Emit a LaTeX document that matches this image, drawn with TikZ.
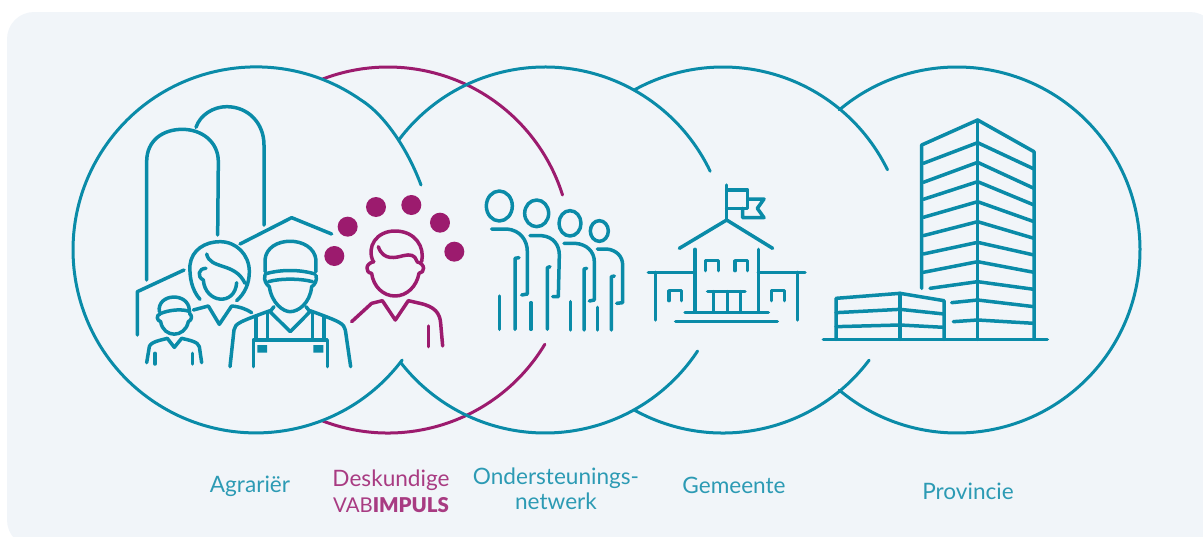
\documentclass[tikz,border=0pt]{standalone}
\usepackage{fontspec}
\setmainfont{Lato}
\newfontfamily\heavyfont{Lato Black}
\definecolor{tl}{HTML}{0A8BA8}
\definecolor{mg}{HTML}{9C1B6E}
\definecolor{bgc}{HTML}{F1F5F9}
\begin{document}
\begin{tikzpicture}[x=1pt,y=-1pt,
  ring/.style={line width=3pt,tl,line cap=round},
  mring/.style={line width=3pt,mg,line cap=round},
  ico/.style={line width=3.5pt,tl,line cap=round,line join=round},
  mico/.style={line width=3.5pt,mg,line cap=round,line join=round},
  lab/.style={font=\fontsize{22.6}{25}\selectfont,align=center,text=tl,inner sep=0pt,opacity=.85},
  dot/.style={circle,fill=mg,inner sep=0pt,minimum size=20pt}]
\useasboundingbox (0,0) rectangle (1203,536);
\clip (0,0) rectangle (1203,536);
\fill[bgc,rounded corners=27pt] (7,12) rectangle (1217,547);
% rings
\draw[mring] (388,250) ++(-111:183) arc[start angle=-111,end angle=-17.5,radius=183];
\draw[mring] (388,250) ++(31:183) arc[start angle=31,end angle=111,radius=183];
\draw[ring] (421,185) .. controls (408,150) and (385,115) .. (361,100) arc[start angle=-55,end angle=-323,radius=183];
\draw[ring] (545,250) ++(-143:183) arc[start angle=-143,end angle=-25.5,radius=183];
\draw[ring] (545,250) ++(33.5:183) arc[start angle=33.5,end angle=142,radius=183];
\draw[ring] (723,250) ++(-119:183) arc[start angle=-119,end angle=-26,radius=183];
\draw[ring] (723,250) ++(37:183) arc[start angle=37,end angle=119,radius=183];
\draw[ring] (957,250) ++(-130:183) arc[start angle=-130,end angle=130,radius=183];
% farm icon
\begin{scope}[shift={(120,90)},x=1/3*1pt,y=-1/3*1pt]
\draw[ico] (80,570) -- (80,215) .. controls (80,150) and (130,118) .. (187,118) .. controls (245,118) and (295,155) .. (295,215) -- (293,435);
\draw[ico] (228,112) .. controls (240,75) and (280,50) .. (320,50) .. controls (385,50) and (432,100) .. (432,165) -- (432,405);
\draw[ico] (52,735) -- (52,605) -- (192,540);
\draw[ico] (360,462) -- (515,383) -- (635,432);
% woman
\draw[ico] (240,628) .. controls (215,600) and (208,560) .. (210,525) .. controls (215,480) and (255,455) .. (300,455) .. controls (350,455) and (388,495) .. (388,545) .. controls (388,580) and (375,610) .. (350,632);
\draw[ico] (260,492) .. controls (270,540) and (345,515) .. (375,580);
\draw[ico] (258,535) .. controls (235,535) and (230,560) .. (250,570) .. controls (255,640) and (345,650) .. (350,578);
\draw[ico] (220,660) -- (265,648) -- (298,703) -- (335,648) .. controls (360,650) and (380,658) .. (395,668);
% boy
\draw[ico] (118,665) .. controls (110,610) and (205,605) .. (208,660);
\draw[ico] (118,672) .. controls (145,660) and (185,655) .. (210,665);
\draw[ico] (120,672) .. controls (108,675) and (110,692) .. (122,695) .. controls (130,745) and (195,745) .. (205,695) .. controls (217,690) and (217,675) .. (208,670);
\draw[ico] (80,818) -- (88,770) .. controls (92,755) and (125,750) .. (142,745) -- (163,772) -- (185,745) .. controls (205,750) and (235,755) .. (238,770) -- (245,818);
\draw[ico] (105,790) -- (105,822);
\draw[ico] (218,790) -- (218,822);
% farmer
\draw[ico] (435,545) -- (435,510) .. controls (440,435) and (580,435) .. (588,510) -- (588,545);
\draw[ico] (435,552) .. controls (480,538) and (540,538) .. (585,552);
\draw[ico] (445,575) .. controls (480,565) and (540,565) .. (578,575);
\draw[ico] (435,556) .. controls (430,570) and (440,585) .. (448,590) .. controls (455,640) and (490,665) .. (510,665) .. controls (535,665) and (570,640) .. (575,590) .. controls (585,585) and (592,570) .. (588,556);
\draw[ico] (462,650) -- (450,665) -- (511,725) -- (570,665) -- (558,650);
\draw[ico] (330,830) -- (342,720) .. controls (345,700) and (360,695) .. (450,662);
\draw[ico] (570,662) .. controls (660,695) and (672,700) .. (676,720) -- (692,830);
\draw[ico] (408,678) -- (408,750);
\draw[ico] (442,668) -- (442,750);
\draw[ico] (578,668) -- (578,750);
\draw[ico] (612,680) -- (612,750);
\draw[ico] (400,830) -- (400,750) -- (622,750) -- (622,830);
\fill[tl] (412,765) rectangle (441,788) (580,765) rectangle (610,788);
% expert
\node[dot] (d1) at (643,498) {};
\node[dot] (d2) at (683,410) {};
\node[dot] (d3) at (768,351) {};
\node[dot] (d4) at (874,345) {};
\node[dot] (d5) at (960,398) {};
\node[dot] (d6) at (1003,485) {};
\draw[mico] (760,515) .. controls (738,470) and (770,423) .. (825,423) .. controls (885,423) and (915,470) .. (905,515);
\draw[mico] (775,470) .. controls (790,515) and (830,502) .. (850,497) .. controls (870,492) and (885,495) .. (890,512);
\draw[mico] (762,515) .. controls (735,520) and (735,548) .. (755,550) .. controls (760,590) and (790,618) .. (825,618) .. controls (860,618) and (890,590) .. (897,550) .. controls (915,548) and (918,522) .. (890,515);
\draw[mico] (695,695) -- (755,640) -- (787,632) -- (826,690) -- (865,632) -- (900,640) .. controls (945,650) and (960,670) .. (962,700) -- (968,768);
\draw[mico] (925,708) -- (925,770);
\end{scope}
% people icon
\begin{scope}[shift={(470,170)},x=1/3*1pt,y=-1/3*1pt]
\draw[ico] (88,108) ellipse[x radius=39,y radius=45];
\draw[ico] (65,177) -- (110,177) .. controls (150,180) and (172,210) .. (172,245) -- (172,372) -- (155,375);
\draw[ico] (147,263) -- (135,265) -- (135,478);
\draw[ico] (88,378) -- (88,478);
\draw[ico] (200,130) ellipse[x radius=36,y radius=40];
\draw[ico] (180,197) -- (215,197) .. controls (250,200) and (268,225) .. (268,255) -- (265,380) -- (248,380);
\draw[ico] (240,290) -- (232,293) -- (232,478);
\draw[ico] (183,398) -- (183,478);
\draw[ico] (300,160) ellipse[x radius=33,y radius=38];
\draw[ico] (282,220) -- (315,220) .. controls (350,222) and (373,245) .. (373,275) -- (373,390) -- (358,393);
\draw[ico] (350,295) -- (342,297) -- (342,480);
\draw[ico] (301,395) -- (301,480);
\draw[ico] (388,183) ellipse[x radius=27,y radius=31];
\draw[ico] (382,237) -- (410,237) .. controls (440,240) and (458,260) .. (458,285) -- (458,398) -- (440,400);
\draw[ico] (433,318) -- (424,320) -- (424,480);
\draw[ico] (383,412) -- (383,480);
\end{scope}
% school icon
\begin{scope}[shift={(470,170)},x=1/3*1pt,y=-1/3*1pt]
\draw[ico] (770,45) -- (770,148);
\draw[ico] (770,60) -- (833,60) -- (833,115) -- (770,115);
\draw[ico] (833,87) -- (882,87) -- (862,115) -- (882,143) -- (818,143) -- (818,115);
\draw[ico] (628,235) -- (770,150) -- (908,235);
\draw[ico] (675,238) -- (675,425);
\draw[ico] (865,238) -- (865,425);
\draw[ico] (535,307) -- (675,307);
\draw[ico] (865,307) -- (1005,307);
\draw[ico] (557,307) -- (557,450);
\draw[ico] (983,307) -- (983,450);
\draw[ico] (707,302) -- (707,272) -- (745,272) -- (745,302);
\draw[ico] (795,302) -- (795,272) -- (833,272) -- (833,302);
\draw[ico] (597,392) -- (597,362) -- (635,362) -- (635,392);
\draw[ico] (905,392) -- (905,362) -- (943,362) -- (943,392);
\draw[ico] (713,365) -- (825,365);
\draw[ico] (730,365) -- (730,425);
\draw[ico] (772,365) -- (772,425);
\draw[ico] (812,365) -- (812,425);
\draw[ico] (645,427) -- (895,427);
\draw[ico] (617,454) -- (922,454);
\end{scope}
% tower icon
\begin{scope}[shift={(810,100)},x=1/3*1pt,y=-1/3*1pt]
\draw[ico] (335,565) -- (335,135) -- (503,60) -- (672,155) -- (672,718);
\draw[ico] (503,60) -- (503,718);
\draw[ico] (340,190) -- (503,128) -- (672,207);
\draw[ico] (340,247) -- (503,187) -- (672,265);
\draw[ico] (340,298) -- (503,245) -- (672,315);
\draw[ico] (340,352) -- (503,305) -- (672,365);
\draw[ico] (340,407) -- (503,365) -- (672,415);
\draw[ico] (340,462) -- (503,427) -- (672,465);
\draw[ico] (340,517) -- (503,485) -- (672,517);
\draw[ico] (360,565) -- (503,545) -- (672,568);
\draw[ico] (425,608) -- (503,600) -- (672,620);
\draw[ico] (430,665) -- (503,660) -- (672,670);
\draw[ico] (40,718) -- (712,718);
\draw[ico] (78,718) -- (78,595) -- (270,580) -- (402,602) -- (402,718);
\draw[ico] (270,580) -- (270,718);
\draw[ico] (78,638) -- (270,628) -- (402,642);
\draw[ico] (78,680) -- (270,675) -- (402,682);
\end{scope}
% labels
\node[lab] (agr) at (250,486) {Agrariër};
\node[lab,text=mg] (des) at (391,491) {Deskundige\\[1pt]{\fontsize{20.4}{25}\selectfont VAB{\heavyfont IMPULS}}};
\node[lab] (ond) at (556,489) {Ondersteunings-\\netwerk};
\node[lab] (gem) at (734,485) {Gemeente};
\node[lab] (pro) at (968,491) {Provincie};
\end{tikzpicture}
\end{document}
